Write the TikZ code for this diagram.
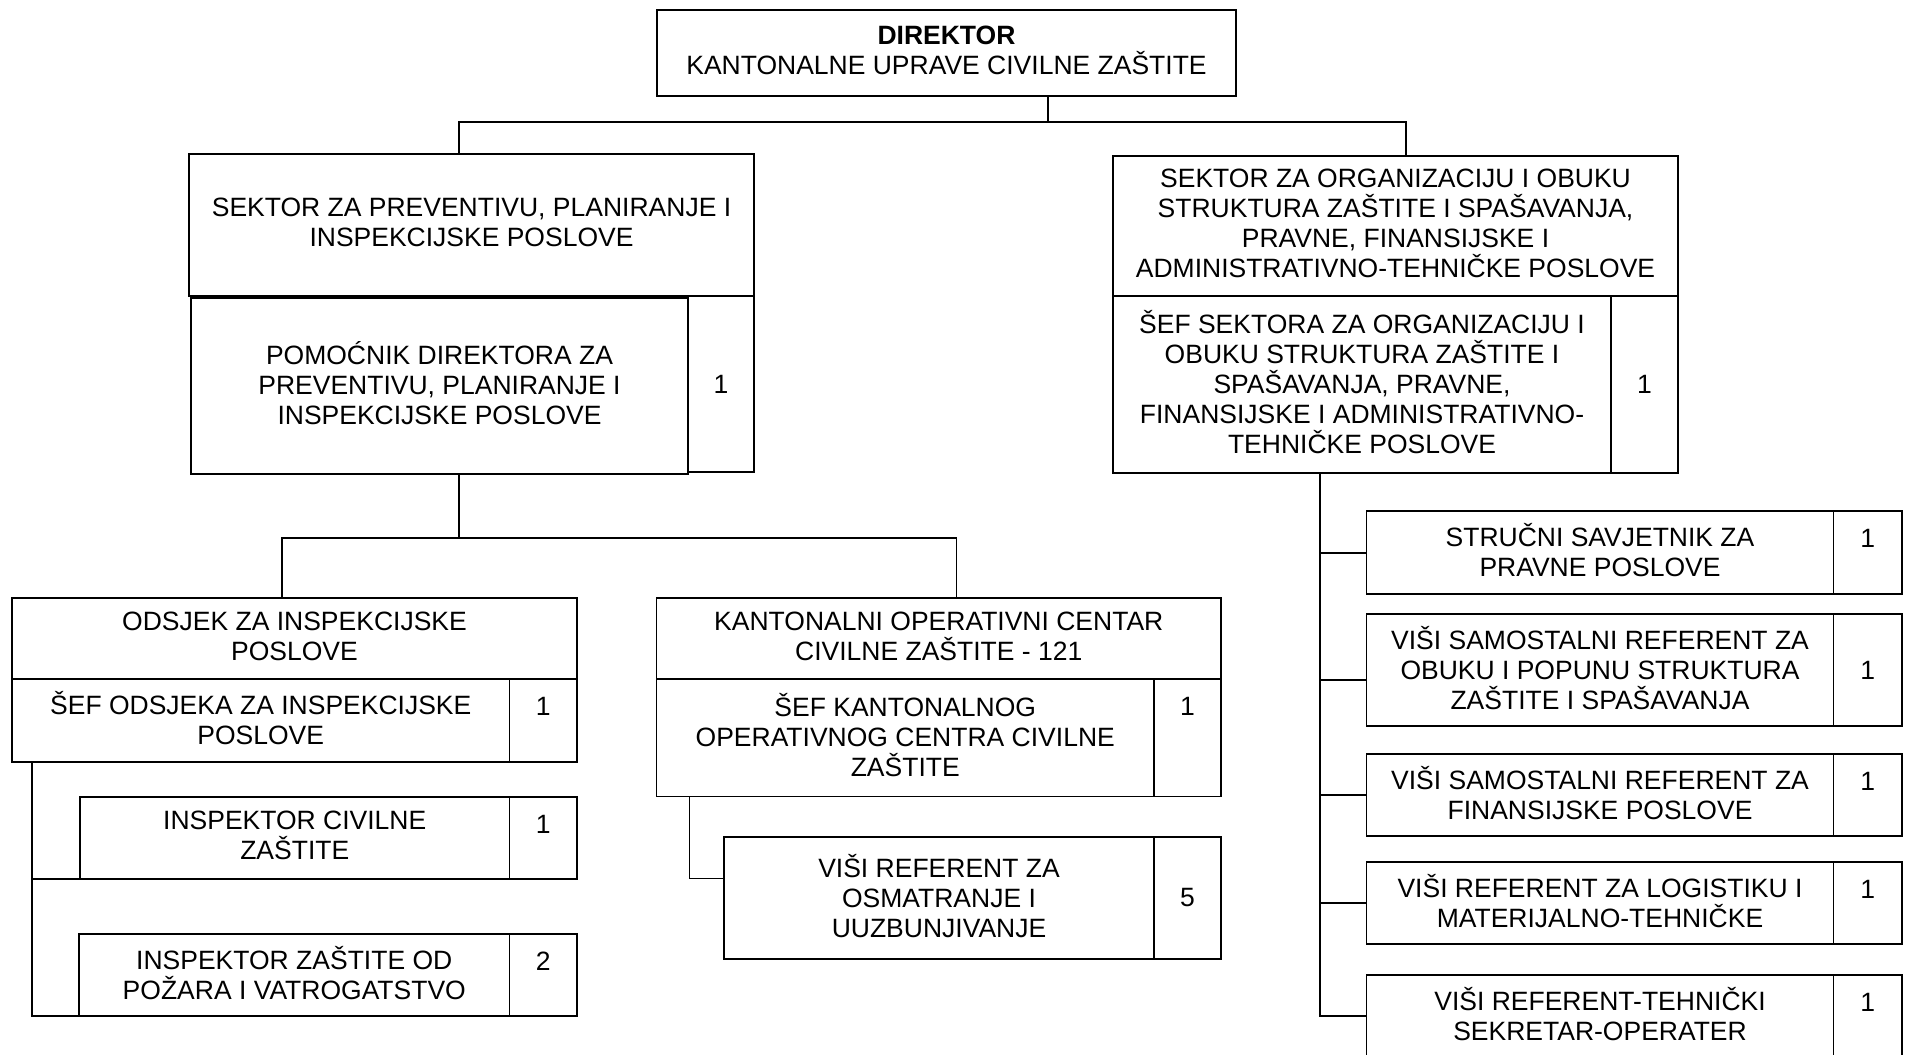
\documentclass[tikz,border=0pt]{standalone}
\usepackage{fontspec}
\setmainfont{Liberation Sans}
\usetikzlibrary{calc}
\tikzset{
  box/.style={draw, line width=1.8pt, inner sep=0pt, outer sep=0pt, align=center, anchor=north west},
  tbox/.style={box, execute at end node={\rule[-5pt]{0pt}{5pt}}},
  wire/.style={line width=1.8pt, line cap=rect},
  numtop/.style={label={[anchor=center, yshift=-27.5pt]north:#1}}
}
\begin{document}
\begin{tikzpicture}[x=1pt, y=-1pt, font=\fontsize{26.5}{30}\selectfont]
\useasboundingbox (0,0) rectangle (1910,1054);
\fill[white] (0,0) rectangle (1910,1054);
\clip (0,0) rectangle (1910,1054);

% top
\node[tbox, minimum width=579, minimum height=86] (dir) at (657,10) {\textbf{DIREKTOR}\\KANTONALNE UPRAVE CIVILNE ZAŠTITE};

% left sector
\node[tbox, minimum width=565, minimum height=142] (secL) at (189,154) {SEKTOR ZA PREVENTIVU, PLANIRANJE I\\INSPEKCIJSKE POSLOVE};
\node[tbox, minimum width=497, minimum height=176] (pomL) at (191,298) {POMOĆNIK DIREKTORA ZA\\PREVENTIVU, PLANIRANJE I\\INSPEKCIJSKE POSLOVE};
\node[box, minimum width=66, minimum height=176] (numL) at (688,296) {1};

% right sector
\node[tbox, minimum width=565, minimum height=140] (secR) at (1113,156) {SEKTOR ZA ORGANIZACIJU I OBUKU\\STRUKTURA ZAŠTITE I SPAŠAVANJA,\\PRAVNE, FINANSIJSKE I\\ADMINISTRATIVNO-TEHNIČKE POSLOVE};
\node[tbox, minimum width=498, minimum height=177] (sefR) at (1113,296) {ŠEF SEKTORA ZA ORGANIZACIJU I\\OBUKU STRUKTURA ZAŠTITE I\\SPAŠAVANJA, PRAVNE,\\FINANSIJSKE I ADMINISTRATIVNO-\\TEHNIČKE POSLOVE};
\node[box, minimum width=67, minimum height=177] (numR) at (1611,296) {1};

% odsjek
\node[tbox, minimum width=565, minimum height=81] (ods) at (12,598) {ODSJEK ZA INSPEKCIJSKE\\POSLOVE};
\node[tbox, minimum width=497.5, minimum height=83] (sefO) at (12,679) {ŠEF ODSJEKA ZA INSPEKCIJSKE\\POSLOVE};
\node[box, minimum width=67.5, minimum height=83, numtop=1] (numO) at (509.5,679) {};
\node[tbox, minimum width=429.5, minimum height=82] (insC) at (80,797) {INSPEKTOR CIVILNE\\ZAŠTITE};
\node[box, minimum width=67.5, minimum height=82, numtop=1] (numC) at (509.5,797) {};
\node[tbox, minimum width=430.5, minimum height=82] (insZ) at (79,934) {INSPEKTOR ZAŠTITE OD\\POŽARA I VATROGATSTVO};
\node[box, minimum width=67.5, minimum height=82, numtop=2] (numZ) at (509.5,934) {};

% kantonalni centar
\node[tbox, minimum width=564.5, minimum height=81] (kan) at (656.5,598) {KANTONALNI OPERATIVNI CENTAR\\CIVILNE ZAŠTITE - 121};
\node[tbox, minimum width=497.5, minimum height=117.5] (sefK) at (656.5,679) {ŠEF KANTONALNOG\\OPERATIVNOG CENTRA CIVILNE\\ZAŠTITE};
\node[box, minimum width=67, minimum height=117.5, numtop=1] (numK) at (1154,679) {};
\node[tbox, minimum width=430, minimum height=122] (visR) at (724,837) {VIŠI REFERENT ZA\\OSMATRANJE I\\UUZBUNJIVANJE};
\node[box, minimum width=67, minimum height=122] (numV) at (1154,837) {5};

% right column
\node[tbox, minimum width=467, minimum height=83] (str) at (1366.5,511) {STRUČNI SAVJETNIK ZA\\PRAVNE POSLOVE};
\node[box, minimum width=68.5, minimum height=83, numtop=1] (numS) at (1833.5,511) {};
\node[tbox, minimum width=467, minimum height=112] (obu) at (1366.5,614) {VIŠI SAMOSTALNI REFERENT ZA\\OBUKU I POPUNU STRUKTURA\\ZAŠTITE I SPAŠAVANJA};
\node[box, minimum width=68.5, minimum height=112] (numOb) at (1833.5,614) {1};
\node[tbox, minimum width=467, minimum height=82] (fin) at (1366.5,754) {VIŠI SAMOSTALNI REFERENT ZA\\FINANSIJSKE POSLOVE};
\node[box, minimum width=68.5, minimum height=82, numtop=1] (numF) at (1833.5,754) {};
\node[tbox, minimum width=467, minimum height=82] (log) at (1366.5,862) {VIŠI REFERENT ZA LOGISTIKU I\\MATERIJALNO-TEHNIČKE};
\node[box, minimum width=68.5, minimum height=82, numtop=1] (numLg) at (1833.5,862) {};
\node[tbox, minimum width=467, minimum height=82] (teh) at (1366.5,975) {VIŠI REFERENT-TEHNIČKI\\SEKRETAR-OPERATER};
\node[box, minimum width=68.5, minimum height=82, numtop=1] (numT) at (1833.5,975) {};

% connectors
\coordinate (j0) at (1048,122);
\coordinate (jL) at (459,122);
\coordinate (jR) at (1406,122);
\draw[wire] (dir.south -| j0) -- (j0);
\draw[wire] (secL.north -| jL) -- (jL) -- (jR) -- (secR.north -| jR);

\coordinate (k0) at (459,538);
\coordinate (kL) at (282,538);
\coordinate (kR) at (956.5,538);
\draw[wire] (pomL.south -| k0) -- (k0);
\draw[wire] (ods.north -| kL) -- (kL) -- (kR) -- (kan.north -| kR);

\coordinate (oL) at (32,1016);
\draw[wire] (sefO.south -| oL) -- (insZ.south west -| oL) -- (insZ.south west);
\draw[wire] (insC.south west -| oL) -- (insC.south west);

\coordinate (kv) at (689.5,878.5);
\draw[wire] (sefK.south -| kv) -- (kv) -- (kv -| visR.west);

\coordinate (rv) at (1320,1016);
\coordinate (ro) at (1320,680);
\coordinate (rs) at (1320,553);
\draw[wire] (sefR.south -| rv) -- (rv) -- (rv -| teh.west);
\draw[wire] (rs) -- (rs -| str.west);
\draw[wire] (ro) -- (ro -| obu.west);
\draw[wire] (fin.west -| rv) -- (fin.west);
\draw[wire] (log.west -| rv) -- (log.west);
\end{tikzpicture}
\end{document}
